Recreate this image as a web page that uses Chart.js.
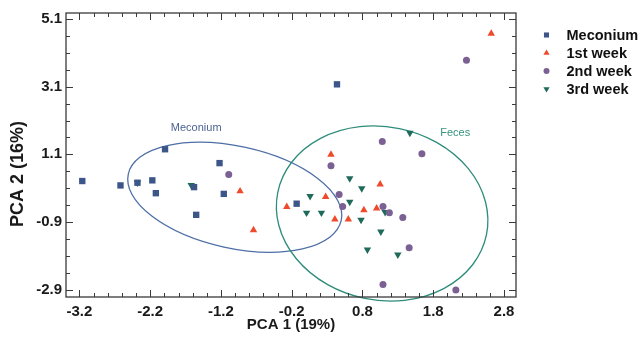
<!DOCTYPE html>
<html><head><meta charset="utf-8">
<script src="https://cdn.jsdelivr.net/npm/chart.js@4/dist/chart.umd.min.js"></script>
<style>html,body{margin:0;padding:0;background:#fff}#wrap{width:642px;height:343px;position:relative}</style>
</head><body><div id="wrap"><canvas id="c" width="642" height="343"></canvas></div>
<script>
// ---- data ----
const seriesNames = ['Meconium', '1st week', '2nd week', '3rd week'];
const meconiumX = [-3.16, -2.62, -2.38, -2.17, -2.12, -1.99, -1.58, -1.55, -1.22, -1.16, -0.13, 0.44];
const meconiumY = [0.31, 0.18, 0.26, 0.33, -0.05, 1.25, 0.13, -0.69, 0.84, -0.07, -0.36, 3.17];
const week1X = [-0.93, -0.74, -0.27, 0.355, 0.28, 0.41, 0.60, 0.82, 1.00, 1.05, 2.62];
const week1Y = [0.01, -1.14, -0.45, 1.09, -0.16, -0.82, -0.82, -0.55, -0.50, 0.21, 4.67];
const week2X = [-1.09, 1.08, 1.64, 0.355, 0.47, 0.52, 1.09, 1.18, 1.37, 1.46, 1.09, 2.12, 2.27];
const week2Y = [0.50, 1.48, 1.12, 0.76, -0.085, -0.44, -0.44, -0.63, -0.77, -1.66, -2.75, -2.91, 3.88];
const week3X = [-2.38, -1.62, 1.47, 0.62, 0.79, 0.06, 0.62, 0.01, 0.22, 0.78, 1.12, 1.06, 0.87, 1.30];
const week3Y = [0.26, 0.19, 1.73, 0.39, 0.09, -0.14, -0.31, -0.63, -0.63, -0.84, -0.61, -1.19, -1.72, -1.87];
const xTickLabels = [-3.2, -2.2, -1.2, -0.2, 0.8, 1.8, 2.8];
const yTickLabels = [5.1, 3.1, 1.1, -0.9, -2.9];
const xTitle = 'PCA 1 (19%)';
const yTitle = 'PCA 2 (16%)';
const groupLabels = ['Meconium', 'Feces'];

// ---- styling / geometry (not data) ----
const FONT = "'Liberation Sans', Arial, Helvetica, sans-serif";
const styles = [
  {color: '#3D5689', pointStyle: 'rect', radius: 4.5, rotation: 0},
  {color: '#EE4A2C', pointStyle: 'triangle', radius: 4.3, rotation: 0},
  {color: '#7B6193', pointStyle: 'circle', radius: 3.5, rotation: 0},
  {color: '#1F6A5A', pointStyle: 'triangle', radius: 4.3, rotation: 180}
];
const ellipses = [
  {cx: -1.005, cy: -0.17, a: 1.54, b: 0.72, angle: 12.3, color: '#4E6FA6', label: 0, lx: -1.55, ly: 1.89, lcolor: '#4D6394'},
  {cx: 1.078, cy: -0.65, a: 1.505, b: 1.225, angle: 11.5, color: '#2E8C7A', label: 1, lx: 2.11, ly: 1.73, lcolor: '#35957E'}
];

function zip(xs, ys) { return xs.map((x, i) => ({x: x, y: ys[i]})); }
const seriesData = [zip(meconiumX, meconiumY), zip(week1X, week1Y), zip(week2X, week2Y), zip(week3X, week3Y)];

const datasets = seriesNames.map((n, i) => ({
  label: n,
  data: seriesData[i],
  pointStyle: styles[i].pointStyle,
  pointRadius: styles[i].radius,
  pointRotation: styles[i].rotation,
  backgroundColor: styles[i].color,
  borderColor: styles[i].color,
  borderWidth: 0,
  pointHoverRadius: styles[i].radius
}));

function drawMarker(ctx, st, x, y, r) {
  if (Chart.helpers && Chart.helpers.drawPoint) {
    ctx.save();
    ctx.fillStyle = st.color; ctx.strokeStyle = st.color;
    Chart.helpers.drawPoint(ctx, {pointStyle: st.pointStyle, radius: r, rotation: st.rotation, borderWidth: 0}, x, y);
    ctx.restore();
  }
}

const decorPlugin = {
  id: 'decor',
  beforeDatasetsDraw(chart) {
    const ctx = chart.ctx, xs = chart.scales.x, ys = chart.scales.y;
    const pxPerX = xs.getPixelForValue(1) - xs.getPixelForValue(0);
    ellipses.forEach(e => {
      ctx.save();
      ctx.beginPath();
      ctx.ellipse(xs.getPixelForValue(e.cx), ys.getPixelForValue(e.cy), e.a * pxPerX, e.b * pxPerX, e.angle * Math.PI / 180, 0, Math.PI * 2);
      ctx.strokeStyle = e.color; ctx.lineWidth = 1.3; ctx.stroke();
      ctx.font = '11px ' + FONT; ctx.fillStyle = e.lcolor;
      ctx.textAlign = 'center'; ctx.textBaseline = 'middle';
      ctx.fillText(groupLabels[e.label], xs.getPixelForValue(e.lx), ys.getPixelForValue(e.ly));
      ctx.restore();
    });
  },
  afterDraw(chart) {
    const ctx = chart.ctx, a = chart.chartArea, xs = chart.scales.x, ys = chart.scales.y;
    ctx.save();
    ctx.strokeStyle = '#3a3a3a'; ctx.lineWidth = 1.3;
    ctx.strokeRect(a.left, a.top, a.right - a.left, a.bottom - a.top);
    ctx.lineWidth = 1;
    // x ticks every 0.2, major every 1.0 at the labelled values
    for (let k = -17; k <= 15; k++) {
      const v = k * 0.2;
      if (v < xs.min || v > xs.max) continue;
      const major = xTickLabels.some(t => Math.abs(t - v) < 1e-6);
      const len = major ? 7 : 4;
      const px = Math.round(xs.getPixelForValue(v)) + 0.5;
      ctx.beginPath();
      ctx.moveTo(px, a.bottom); ctx.lineTo(px, a.bottom - len);
      ctx.moveTo(px, a.top); ctx.lineTo(px, a.top + len);
      ctx.stroke();
    }
    for (let k = 0; k <= 16; k++) {
      const v = 5.1 - k * 0.5;
      if (v < ys.min || v > ys.max) continue;
      const major = yTickLabels.some(t => Math.abs(t - v) < 1e-6);
      const len = major ? 7 : 4;
      const py = Math.round(ys.getPixelForValue(v)) + 0.5;
      ctx.beginPath();
      ctx.moveTo(a.left, py); ctx.lineTo(a.left + len, py);
      ctx.moveTo(a.right, py); ctx.lineTo(a.right - len, py);
      ctx.stroke();
    }
    // axis titles
    ctx.fillStyle = '#1a1a1a';
    ctx.textAlign = 'center'; ctx.textBaseline = 'middle';
    ctx.font = 'bold 15px ' + FONT;
    ctx.fillText(xTitle, (a.left + a.right) / 2, 325);
    ctx.save();
    ctx.translate(18, 174); ctx.rotate(-Math.PI / 2);
    ctx.font = 'bold 18px ' + FONT;
    ctx.fillText(yTitle, 0, 0);
    ctx.restore();
    // legend
    ctx.textAlign = 'left';
    ctx.font = 'bold 14.5px ' + FONT;
    seriesNames.forEach((n, i) => {
      const y = 35 + i * 18;
      drawMarker(ctx, styles[i], 546.5, y, styles[i].pointStyle === 'circle' ? 3 : 3.6);
      ctx.fillStyle = '#111';
      ctx.fillText(n, 566.5, y + 0.5);
    });
    ctx.restore();
  }
};

new Chart(document.getElementById('c'), {
  type: 'scatter',
  data: {datasets: datasets},
  options: {
    responsive: false, animation: false, devicePixelRatio: 1,
    layout: {padding: {top: 10, right: 126, left: 0, bottom: 0}},
    plugins: {legend: {display: false}, tooltip: {enabled: false}},
    scales: {
      x: {
        type: 'linear', min: -3.39, max: 2.97,
        afterBuildTicks: s => { s.ticks = xTickLabels.map(v => ({value: v})); },
        afterFit: s => { s.height = 46; },
        grid: {display: false, drawTicks: false}, border: {display: false},
        ticks: {font: {family: FONT, size: 15, weight: 'bold'}, color: '#1a1a1a', padding: 6, maxRotation: 0, autoSkip: false,
          callback: v => Number(v).toFixed(1)}
      },
      y: {
        type: 'linear', min: -3.12, max: 5.28,
        afterBuildTicks: s => { s.ticks = yTickLabels.map(v => ({value: v})); },
        afterFit: s => { s.width = 66; },
        grid: {display: false, drawTicks: false}, border: {display: false},
        ticks: {font: {family: FONT, size: 15, weight: 'bold'}, color: '#1a1a1a', padding: 4, autoSkip: false,
          callback: v => Number(v).toFixed(1)}
      }
    }
  },
  plugins: [decorPlugin]
});
</script>
</body></html>
